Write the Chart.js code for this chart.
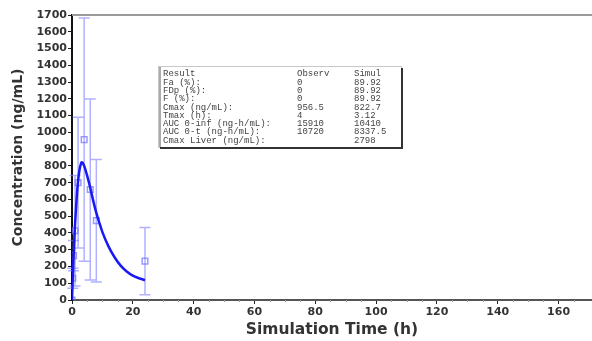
<!DOCTYPE html>
<html>
<head>
<meta charset="utf-8">
<script src="https://cdn.jsdelivr.net/npm/chart.js@4"></script>
<style>
  html, body { margin: 0; padding: 0; background: #fff; }
  #wrap { width: 592px; height: 341px; }
</style>
</head>
<body>
<div id="wrap"><canvas id="grafico" width="592" height="341"></canvas></div>
<script>
// simulated curve
const tempoSim = [0, 0.25, 0.5, 0.75, 1, 1.5, 2, 2.5, 3, 3.12, 3.5, 4, 5, 6, 7, 8, 9, 10, 12, 14, 16, 18, 20, 22, 24]
const concSim = [0, 130, 250, 360, 450, 600, 710, 780, 815, 822, 818, 800, 740, 670, 590, 520, 460, 405, 320, 255, 205, 170, 145, 130, 118]

// observed mean and SD
const tempoObs = [0, 0.25, 0.5, 1, 2, 4, 6, 8, 24]
const concObs = [0, 130, 265, 413, 700, 956.5, 659, 473, 232]
const desvioObs = [0, 60, 90, 330, 390, 725, 540, 365, 200]

const xTicks = [0, 20, 40, 60, 80, 100, 120, 140, 160]

const tabelaCabecalho = ['Result', 'Observ', 'Simul']
const tabelaNomes = ['Fa (%):', 'FDp (%):', 'F (%):', 'Cmax (ng/mL):', 'Tmax (h):', 'AUC 0-inf (ng-h/mL):', 'AUC 0-t (ng-h/mL):', 'Cmax Liver (ng/mL):']
const tabelaObserv = ['0', '0', '0', '956.5', '4', '15910', '10720', '']
const tabelaSimul = ['89.92', '89.92', '89.92', '822.7', '3.12', '10410', '8337.5', '2798']

const corCurva = 'rgb(25, 25, 245)'
const corObs = 'rgba(120, 120, 255, 0.75)'

const errosPlugin = {
  id: 'erros',
  beforeDatasetsDraw(chart) {
    const { ctx, scales: { x, y } } = chart
    ctx.save()
    ctx.strokeStyle = 'rgba(125, 125, 255, 0.6)'
    ctx.lineWidth = 1.5
    tempoObs.forEach((t, i) => {
      if (!desvioObs[i]) return
      const px = x.getPixelForValue(t)
      const top = y.getPixelForValue(concObs[i] + desvioObs[i])
      const bot = y.getPixelForValue(Math.max(0, concObs[i] - desvioObs[i]))
      ctx.beginPath()
      ctx.moveTo(px, top); ctx.lineTo(px, bot)
      ctx.moveTo(px - 5.5, top); ctx.lineTo(px + 5.5, top)
      ctx.moveTo(px - 5.5, bot); ctx.lineTo(px + 5.5, bot)
      ctx.stroke()
    })
    ctx.restore()
  }
}

const molduraPlugin = {
  id: 'moldura',
  afterDraw(chart) {
    const { ctx, chartArea, scales: { x } } = chart
    ctx.save()
    // top frame line
    ctx.strokeStyle = '#9a9a9a'
    ctx.lineWidth = 2
    ctx.beginPath()
    ctx.moveTo(chartArea.left, chartArea.top)
    ctx.lineTo(chartArea.right, chartArea.top)
    ctx.stroke()
    // minor ticks on x
    ctx.strokeStyle = '#999'
    ctx.lineWidth = 1
    for (let v = 5; v < 170; v += 5) {
      if (v % 20 === 0) continue
      const px = Math.round(x.getPixelForValue(v)) + 0.5
      ctx.beginPath()
      ctx.moveTo(px, chartArea.bottom)
      ctx.lineTo(px, chartArea.bottom + 2)
      ctx.stroke()
    }

    // results box
    const bx = 158, by = 66, bw = 243, bh = 81
    ctx.fillStyle = '#fff'
    ctx.fillRect(bx, by, bw, bh)
    ctx.strokeStyle = '#c8c8c8'
    ctx.lineWidth = 1
    ctx.strokeRect(bx + 0.5, by + 0.5, bw, bh)
    ctx.strokeStyle = '#aaa'
    ctx.lineWidth = 2
    ctx.beginPath()
    ctx.moveTo(bx + 2, by + 1); ctx.lineTo(bx + 2, by + bh)
    ctx.stroke()
    ctx.strokeStyle = '#333'
    ctx.beginPath()
    ctx.moveTo(bx + bw + 1, by + 2); ctx.lineTo(bx + bw + 1, by + bh + 1); ctx.lineTo(bx + 2, by + bh + 1)
    ctx.stroke()

    ctx.fillStyle = '#444'
    ctx.font = '9px "Liberation Mono"'
    ctx.textBaseline = 'middle'
    const colX = [163, 297, 354]
    const linha = (vals, k) => vals.forEach((s, c) => ctx.fillText(s, colX[c], 74 + k * 8.3))
    linha(tabelaCabecalho, 0)
    tabelaNomes.forEach((n, i) => linha([n, tabelaObserv[i], tabelaSimul[i]], i + 1))
    ctx.restore()
  }
}

const fonteTick = { family: '"DejaVu Sans"', size: 11, weight: 'bold' }

new Chart(document.getElementById('grafico'), {
  type: 'scatter',
  data: {
    datasets: [{
      label: 'Simul',
      data: tempoSim.map((t, i) => ({ x: t, y: concSim[i] })),
      showLine: true,
      borderColor: corCurva,
      borderWidth: 2.5,
      pointRadius: 0,
      cubicInterpolationMode: 'monotone'
    }, {
      label: 'Observ',
      data: tempoObs.map((t, i) => ({ x: t, y: concObs[i] })),
      pointStyle: 'rect',
      pointRadius: 4,
      borderWidth: 1.5,
      borderColor: corObs,
      backgroundColor: 'rgba(0,0,0,0)'
    }]
  },
  options: {
    responsive: false,
    animation: false,
    layout: { autoPadding: false, padding: { top: 15, right: 0, left: 0, bottom: 0 } },
    plugins: { legend: { display: false }, tooltip: { enabled: false } },
    scales: {
      x: {
        type: 'linear',
        min: 0,
        max: 171,
        afterBuildTicks: s => { s.ticks = xTicks.map(v => ({ value: v })) },
        afterFit: s => { s.height = 41 },
        border: { color: '#555', width: 2 },
        grid: { drawOnChartArea: false, color: '#222', tickLength: 4 },
        ticks: { color: '#333', font: fonteTick, padding: 2, maxRotation: 0, callback: v => String(v) },
        title: {
          display: true,
          text: 'Simulation Time (h)',
          color: '#333',
          font: { family: '"DejaVu Sans"', size: 15.5, weight: 'bold' },
          padding: { top: 0, bottom: 2 }
        }
      },
      y: {
        min: 0,
        max: 1700,
        afterFit: s => { s.width = 72 },
        border: { color: '#111', width: 2 },
        grid: { drawOnChartArea: false, color: '#222', tickLength: 4 },
        ticks: { stepSize: 100, color: '#333', font: fonteTick, padding: 1, callback: v => String(v) },
        title: {
          display: true,
          text: 'Concentration (ng/mL)',
          color: '#333',
          font: { family: '"DejaVu Sans"', size: 14, weight: 'bold' },
          padding: { top: 10, bottom: 0 }
        }
      }
    }
  },
  plugins: [errosPlugin, molduraPlugin]
})
</script>
</body>
</html>
